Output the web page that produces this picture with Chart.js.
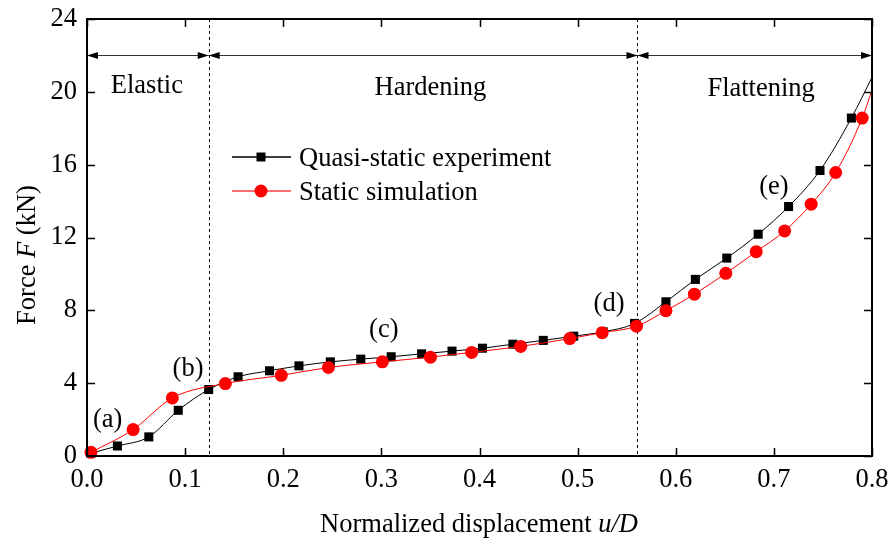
<!DOCTYPE html>
<html>
<head>
<meta charset="utf-8">
<title>Force vs normalized displacement</title>
<script src="https://cdn.jsdelivr.net/npm/chart.js@4.4.1/dist/chart.umd.min.js"></script>
<style>
  html, body { margin: 0; padding: 0; background: #fff; }
  #wrap { width: 893px; height: 542px; position: relative; }
</style>
</head>
<body>
<div id="wrap"><canvas id="myChart"></canvas></div>
<script>
const FONT = '"Liberation Serif", "Times New Roman", serif';
const FS = 26.5;

// quasi-static experiment (black squares); last point only carries the line to the frame
const expU = [0.004, 0.031, 0.063, 0.093, 0.124, 0.154, 0.186, 0.216, 0.248, 0.279, 0.310, 0.341, 0.372, 0.403, 0.434, 0.465, 0.496, 0.526, 0.558, 0.590, 0.620, 0.652, 0.684, 0.715, 0.747, 0.779, 0.800];
const expF = [0.15, 0.55, 1.05, 2.51, 3.65, 4.35, 4.68, 4.95, 5.17, 5.32, 5.45, 5.61, 5.76, 5.92, 6.14, 6.35, 6.58, 6.82, 7.28, 8.47, 9.70, 10.87, 12.18, 13.70, 15.68, 18.56, 20.8];

// static simulation (red circles)
const simU = [0.004, 0.047, 0.087, 0.141, 0.198, 0.246, 0.301, 0.350, 0.392, 0.442, 0.492, 0.525, 0.560, 0.590, 0.619, 0.651, 0.682, 0.711, 0.738, 0.763, 0.790, 0.800];
const simF = [0.20, 1.45, 3.19, 3.98, 4.43, 4.86, 5.17, 5.43, 5.69, 6.02, 6.45, 6.77, 7.13, 7.98, 8.89, 10.03, 11.22, 12.36, 13.83, 15.57, 18.56, 20.1];

const xTickVals = [0, 0.1, 0.2, 0.3, 0.4, 0.5, 0.6, 0.7, 0.8];
const yTickVals = [0, 4, 8, 12, 16, 20, 24];

// stage boundaries and names
const bounds = [0, 0.124, 0.561, 0.8];
const arrowF = 22;
const stageNames = ['Elastic', 'Hardening', 'Flattening'];
const stageU = [0.061, 0.350, 0.687];
const stageF = [19.95, 19.85, 19.75];

// point labels
const ptLabels = ['(a)', '(b)', '(c)', '(d)', '(e)'];
const ptU = [0.021, 0.103, 0.3025, 0.532, 0.700];
const ptF = [1.58, 4.38, 6.51, 7.96, 14.39];

const seriesNames = ['Quasi-static experiment', 'Static simulation'];

function drawMixed(ctx, parts, x, y) {
  let total = 0;
  parts.forEach(p => {
    ctx.font = (p[1] ? 'italic ' : '') + FS + 'px ' + FONT;
    total += ctx.measureText(p[0]).width;
  });
  let cx = x - total / 2;
  ctx.textAlign = 'left';
  parts.forEach(p => {
    ctx.font = (p[1] ? 'italic ' : '') + FS + 'px ' + FONT;
    ctx.fillText(p[0], cx, y);
    cx += ctx.measureText(p[0]).width;
  });
}

const decor = {
  id: 'decor',
  beforeDatasetsDraw(chart) {
    const {ctx, chartArea: a, scales: {x, y}} = chart;
    ctx.save();
    // dashed boundaries
    ctx.strokeStyle = '#000';
    ctx.lineWidth = 1;
    ctx.setLineDash([3, 3]);
    for (let i = 1; i < bounds.length - 1; i++) {
      const px = Math.round(x.getPixelForValue(bounds[i])) + 0.5;
      ctx.beginPath();
      ctx.moveTo(px, a.top);
      ctx.lineTo(px, a.bottom);
      ctx.stroke();
    }
    ctx.setLineDash([]);
    // double arrows
    const ay = Math.round(y.getPixelForValue(arrowF)) + 0.5;
    ctx.strokeStyle = '#333';
    ctx.fillStyle = '#000';
    for (let i = 0; i < bounds.length - 1; i++) {
      const x0 = x.getPixelForValue(bounds[i]);
      const x1 = x.getPixelForValue(bounds[i + 1]);
      ctx.beginPath();
      ctx.moveTo(x0, ay);
      ctx.lineTo(x1, ay);
      ctx.stroke();
      ctx.beginPath();
      ctx.moveTo(x0, ay);
      ctx.lineTo(x0 + 11, ay - 3.5);
      ctx.lineTo(x0 + 11, ay + 3.5);
      ctx.closePath();
      ctx.fill();
      ctx.beginPath();
      ctx.moveTo(x1, ay);
      ctx.lineTo(x1 - 11, ay - 3.5);
      ctx.lineTo(x1 - 11, ay + 3.5);
      ctx.closePath();
      ctx.fill();
    }
    // texts
    ctx.fillStyle = '#000';
    ctx.font = FS + 'px ' + FONT;
    ctx.textAlign = 'center';
    ctx.textBaseline = 'alphabetic';
    stageNames.forEach((s, i) => {
      ctx.fillText(s, x.getPixelForValue(stageU[i]), y.getPixelForValue(stageF[i]));
    });
    ptLabels.forEach((s, i) => {
      ctx.fillText(s, x.getPixelForValue(ptU[i]), y.getPixelForValue(ptF[i]));
    });
    ctx.restore();
  },
  afterDraw(chart) {
    const {ctx, chartArea: a, scales: {x, y}} = chart;
    ctx.save();
    // frame
    ctx.strokeStyle = '#000';
    ctx.lineWidth = 2;
    ctx.strokeRect(a.left, a.top, a.right - a.left, a.bottom - a.top);
    // inward ticks on all four sides
    ctx.lineWidth = 1.5;
    const tl = 8;
    xTickVals.forEach(v => {
      const px = Math.round(x.getPixelForValue(v)) + 0.5;
      ctx.beginPath();
      ctx.moveTo(px, a.bottom); ctx.lineTo(px, a.bottom - tl);
      ctx.moveTo(px, a.top); ctx.lineTo(px, a.top + tl);
      ctx.stroke();
    });
    yTickVals.forEach(v => {
      const py = Math.round(y.getPixelForValue(v)) + 0.5;
      ctx.beginPath();
      ctx.moveTo(a.left, py); ctx.lineTo(a.left + tl, py);
      ctx.moveTo(a.right, py); ctx.lineTo(a.right - tl, py);
      ctx.stroke();
    });
    // legend
    const colors = ['#000', '#ff0000'];
    const lineCols = ['#000', '#ff4040'];
    ctx.lineWidth = 1.5;
    seriesNames.forEach((name, i) => {
      const ry = a.top + 138 + i * 34;
      const lx0 = a.left + 145, lx1 = a.left + 204, mx = a.left + 174;
      ctx.strokeStyle = lineCols[i];
      ctx.beginPath();
      ctx.moveTo(lx0, ry); ctx.lineTo(lx1, ry);
      ctx.stroke();
      ctx.fillStyle = colors[i];
      ctx.beginPath();
      if (i === 0) ctx.rect(mx - 4.5, ry - 4.5, 9, 9);
      else ctx.arc(mx, ry, 6.5, 0, Math.PI * 2);
      ctx.fill();
      ctx.fillStyle = '#000';
      ctx.font = FS + 'px ' + FONT;
      ctx.textAlign = 'left';
      ctx.textBaseline = 'alphabetic';
      ctx.fillText(name, a.left + 212, ry + 8.5);
    });
    // axis titles
    ctx.fillStyle = '#000';
    ctx.textBaseline = 'alphabetic';
    drawMixed(ctx, [['Normalized displacement ', false], ['u/D', true]], 479, 532);
    ctx.translate(35, 255);
    ctx.rotate(-Math.PI / 2);
    drawMixed(ctx, [['Force ', false], ['F', true], [' (kN)', false]], 0, 0);
    ctx.restore();
  }
};

const expPts = expU.map((u, i) => ({x: u, y: expF[i]}));
const simPts = simU.map((u, i) => ({x: u, y: simF[i]}));

function noOverflow(s) {
  s.paddingTop = 0; s.paddingBottom = 0; s.paddingLeft = 0; s.paddingRight = 0;
}

const config = {
  type: 'line',
  data: {
    datasets: [
      {
        label: seriesNames[1],
        data: simPts,
        borderColor: '#ff0000',
        backgroundColor: '#ff0000',
        borderWidth: 1,
        pointStyle: 'circle',
        pointRadius: c => c.dataIndex === simPts.length - 1 ? 0 : 6.5,
        pointBorderWidth: 0,
        cubicInterpolationMode: 'monotone',
        clip: false,
        order: 0
      },
      {
        label: seriesNames[0],
        data: expPts,
        borderColor: '#000',
        backgroundColor: '#000',
        borderWidth: 1,
        pointStyle: 'rect',
        pointRadius: c => c.dataIndex === expPts.length - 1 ? 0 : 6.4,
        pointBorderWidth: 0,
        cubicInterpolationMode: 'monotone',
        clip: false,
        order: 1
      }
    ]
  },
  options: {
    responsive: true,
    maintainAspectRatio: false,
    animation: false,
    layout: { padding: { top: 19, right: 21, left: 0, bottom: 0 } },
    plugins: { legend: { display: false }, tooltip: { enabled: false } },
    scales: {
      x: {
        type: 'linear', min: 0, max: 0.8,
        grid: { display: false, drawTicks: false },
        border: { display: false },
        afterBuildTicks: s => { s.ticks = xTickVals.map(v => ({value: v})); },
        afterFit: s => { s.height = 86; noOverflow(s); },
        ticks: {
          color: '#000', padding: 8, maxRotation: 0, autoSkip: false,
          font: { family: FONT, size: FS },
          callback: v => v.toFixed(1)
        }
      },
      y: {
        type: 'linear', min: 0, max: 24,
        grid: { display: false, drawTicks: false },
        border: { display: false },
        afterBuildTicks: s => { s.ticks = yTickVals.map(v => ({value: v})); },
        afterFit: s => { s.width = 87; noOverflow(s); },
        ticks: {
          color: '#000', padding: 10, autoSkip: false,
          font: { family: FONT, size: FS },
          callback: v => String(v)
        }
      }
    }
  },
  plugins: [decor]
};

const myChart = new Chart(document.getElementById('myChart'), config);
</script>
</body>
</html>
